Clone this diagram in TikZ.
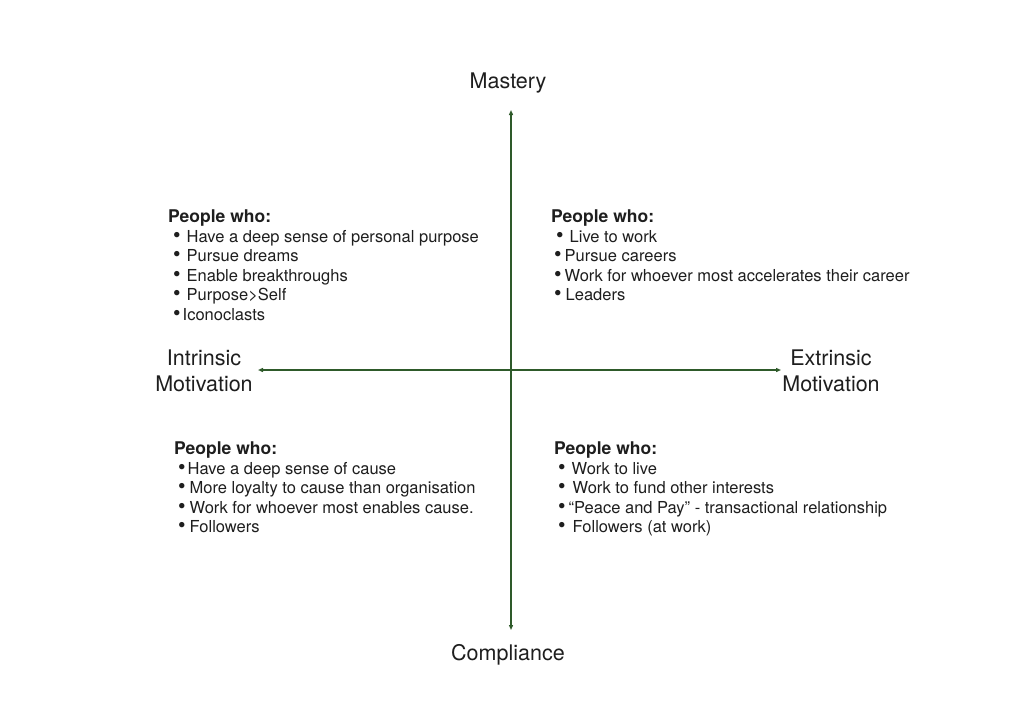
\documentclass[tikz,border=0pt]{standalone}
\usepackage{fontspec}
\usepackage{graphicx}
\setmainfont{TeX Gyre Heros}
\usetikzlibrary{arrows.meta}
\definecolor{axisgreen}{HTML}{2E5A2A}
\definecolor{inkgray}{HTML}{1E1E1E}
\newcommand{\bul}{\raisebox{0.3pt}{\scalebox{1.3}{•}}}

\begin{document}
\begin{tikzpicture}[x=1pt,y=-1pt,
  axis/.style={draw=axisgreen, line width=1.4pt, {Triangle[length=5pt,width=4pt]}-{Triangle[length=5pt,width=4pt]}},
  pole/.style={text=inkgray, align=center, inner sep=0pt, font=\fontsize{21.5}{26}\selectfont},
  quad/.style={text=inkgray, align=left, anchor=north west, inner sep=0pt, font=\fontsize{16.5}{19.5}\selectfont}]
  \useasboundingbox [fill=white] (0,0) rectangle (1024,724);

  \node [pole] (mastery) at (511,83) { Mastery };
  \node [pole] (compliance) at (511,655) { Compliance };
  \node [pole] (intrinsic) at (204,371) { Intrinsic\\Motivation };
  \node [pole] (extrinsic) at (831,371) { Extrinsic\\Motivation };

  \coordinate (top) at (511,110);
  \coordinate (bottom) at (511,630);
  \coordinate (left) at (258,370);
  \coordinate (right) at (781,370);

  \draw [axis] (top) -- (bottom);
  \draw [axis] (left) -- (right);

  \node [quad] (purpose) at (168,210) {
    {\fontsize{17.5}{19.5}\selectfont\bfseries People who:}\\
    \hspace{5pt}\bul\hspace{6pt}Have a deep sense of personal purpose\\
    \hspace{5pt}\bul\hspace{6pt}Pursue dreams\\
    \hspace{5pt}\bul\hspace{6pt}Enable breakthroughs\\
    \hspace{5pt}\bul\hspace{6pt}Purpose>Self\\
    \hspace{5pt}\bul\hspace{2pt}Iconoclasts };

  \node [quad] (careers) at (551,210) {
    {\fontsize{17.5}{19.5}\selectfont\bfseries People who:}\\
    \hspace{5pt}\bul\hspace{6pt}Live to work\\
    \hspace{3pt}\bul\hspace{3pt}Pursue careers\\
    \hspace{3pt}\bul\hspace{3pt}Work for whoever most accelerates their career\\
    \hspace{3pt}\bul\hspace{4pt}Leaders };

  \node [quad] (cause) at (174,442) {
    {\fontsize{17.5}{19.5}\selectfont\bfseries People who:}\\
    \hspace{4pt}\bul\hspace{2pt}Have a deep sense of cause\\
    \hspace{4pt}\bul\hspace{4pt}More loyalty to cause than organisation\\
    \hspace{4pt}\bul\hspace{4pt}Work for whoever most enables cause.\\
    \hspace{4pt}\bul\hspace{4pt}Followers };

  \node [quad] (livers) at (554,442) {
    {\fontsize{17.5}{19.5}\selectfont\bfseries People who:}\\
    \hspace{4pt}\bul\hspace{6pt}Work to live\\
    \hspace{4pt}\bul\hspace{7pt}Work to fund other interests\\
    \hspace{4pt}\bul\hspace{3pt}“Peace and Pay” - transactional relationship\\
    \hspace{4pt}\bul\hspace{7pt}Followers (at work) };
\end{tikzpicture}
\end{document}
